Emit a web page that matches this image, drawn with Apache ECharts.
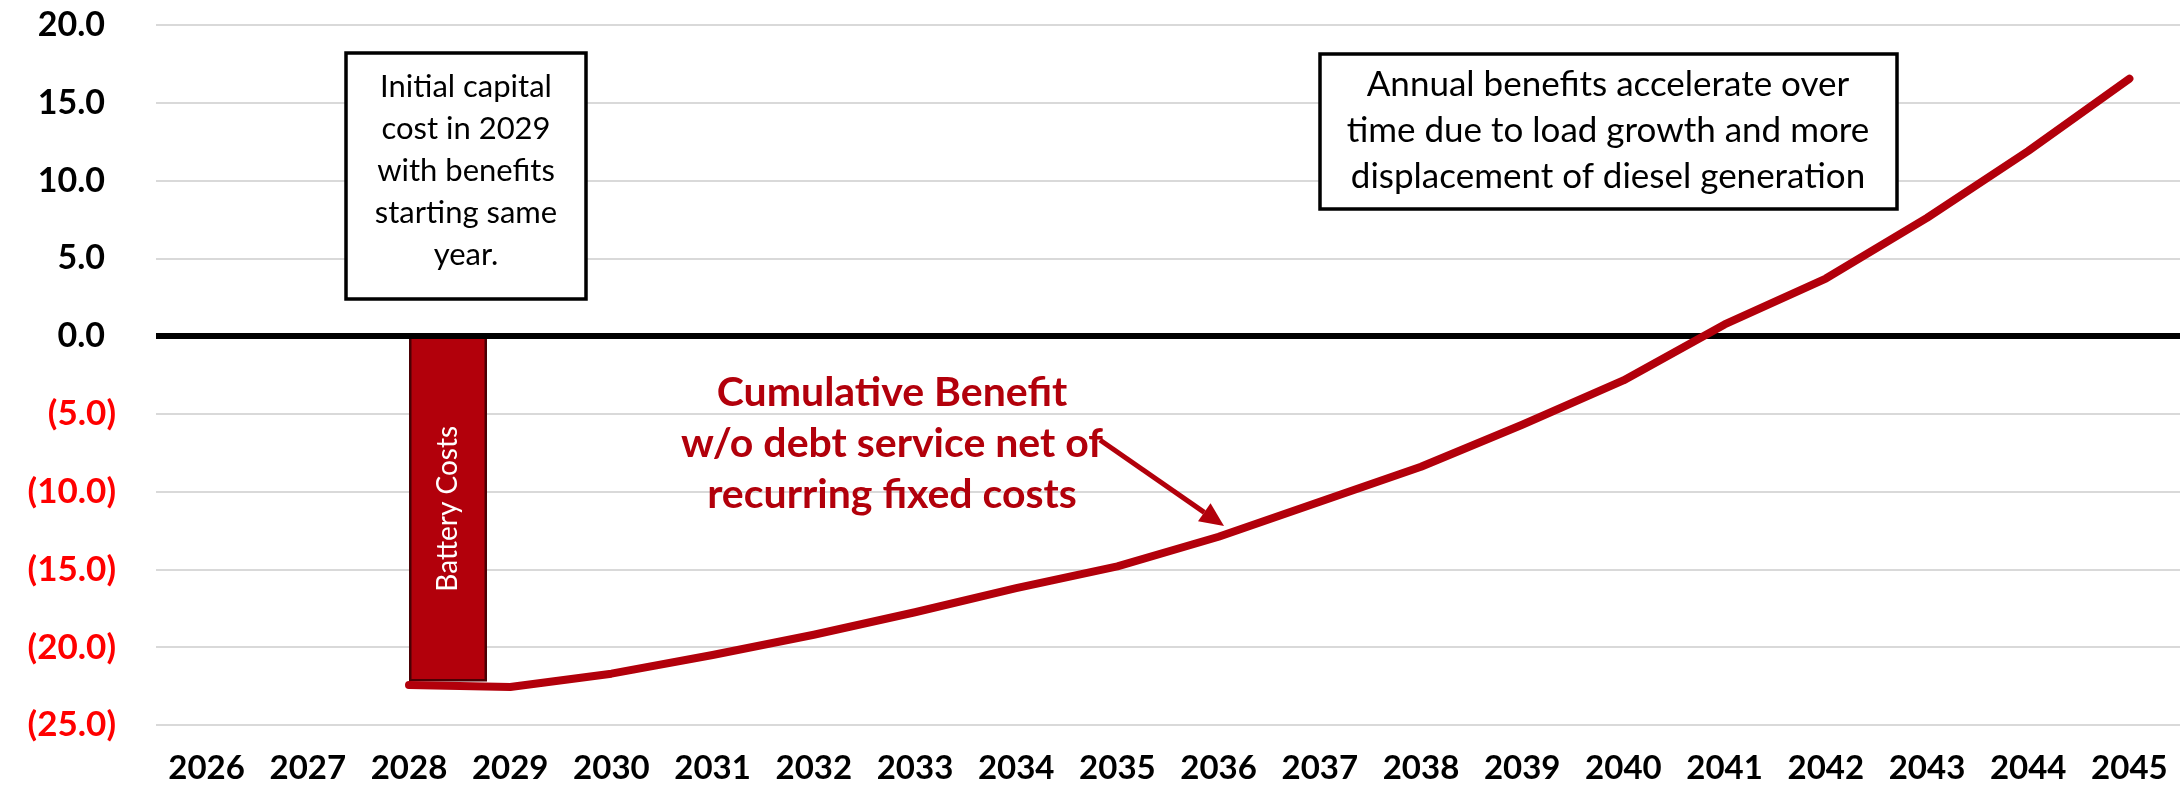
<!DOCTYPE html>
<html>
<head>
<meta charset="utf-8">
<script src="https://cdn.jsdelivr.net/npm/echarts@6/dist/echarts.min.js"></script>
<style>
html,body{margin:0;padding:0;background:#fff;}
#chart{width:2183px;height:789px;}
</style>
</head>
<body>
<div id="chart"></div>
<script>
// ---- data ----
const years = ['2026','2027','2028','2029','2030','2031','2032','2033','2034','2035','2036','2037','2038','2039','2040','2041','2042','2043','2044','2045'];
const cumulativeBenefit = [null, null, -22.43, -22.56, -21.7, -20.5, -19.2, -17.75, -16.2, -14.8, -12.9, -10.65, -8.4, -5.7, -2.85, 0.75, 3.7, 7.6, 11.9, 16.55];
const batteryCosts = [null, null, -22.2, null, null, null, null, null, null, null, null, null, null, null, null, null, null, null, null, null];
const spacer = years.map(() => null);
const yMin = -25, yMax = 20, yStep = 5;
const barLabel = 'Battery Costs';
const note1 = ['Initial capital', 'cost in 2029', 'with benefits', 'starting same', 'year.'];
const note2 = ['Annual benefits accelerate over', 'time due to load growth and more', 'displacement of diesel generation'];
const lineNote = ['Cumulative Benefit', 'w/o debt service net of', 'recurring fixed costs'];

const RED = '#B2000B';
const FONT = 'Lato, "Open Sans", sans-serif';

const chart = echarts.init(document.getElementById('chart'));

// arrow geometry
const aStart = [1100, 440], aTip = [1224, 526];
const dx = aTip[0]-aStart[0], dy = aTip[1]-aStart[1];
const len = Math.sqrt(dx*dx+dy*dy);
const ux = dx/len, uy = dy/len, px = -uy, py = ux;
const headL = 24, headW = 11;
const base = [aTip[0]-headL*ux, aTip[1]-headL*uy];

chart.setOption({
  animation: false,
  backgroundColor: '#fff',
  grid: { left: 156, right: 3, top: 25, bottom: 64 },
  xAxis: {
    type: 'category',
    data: years,
    boundaryGap: true,
    axisLine: { show: false },
    axisTick: { show: false },
    axisLabel: { fontFamily: FONT, fontWeight: 'bold', fontSize: 33, color: '#000', margin: 27, interval: 0 }
  },
  yAxis: {
    type: 'value',
    min: yMin, max: yMax, interval: yStep,
    axisLine: { show: false },
    axisTick: { show: false },
    splitLine: { lineStyle: { color: '#D9D9D9', width: 2 } },
    axisLabel: {
      margin: 40,
      formatter: function (v) {
        return v < 0 ? '{neg|(' + Math.abs(v).toFixed(1) + ')}' : '{pos|' + v.toFixed(1) + '}';
      },
      rich: {
        neg: { fontFamily: FONT, fontWeight: 'bold', fontSize: 35, color: '#FF0000' },
        pos: { fontFamily: FONT, fontWeight: 'bold', fontSize: 34, color: '#000', padding: [0, 11, 0, 0] }
      }
    }
  },
  series: [
    {
      name: 'spacer', type: 'bar', data: spacer, barWidth: 78, barGap: '0%', silent: true
    },
    {
      name: barLabel, type: 'bar', data: batteryCosts, barWidth: 78, barGap: '0%',
      itemStyle: { color: RED, borderColor: '#4A0004', borderWidth: 2.5 },
      label: {
        show: true, position: 'inside', rotate: 90, formatter: barLabel,
        color: '#fff', fontFamily: FONT, fontSize: 28
      }
    },
    {
      name: 'Cumulative Benefit', type: 'line', data: cumulativeBenefit,
      symbol: 'none', z: 5,
      lineStyle: { color: RED, width: 8, cap: 'round', join: 'round' },
      markLine: {
        silent: true, symbol: 'none', z: 4,
        label: { show: false },
        lineStyle: { color: '#000', width: 6, type: 'solid' },
        data: [{ yAxis: 0 }]
      }
    }
  ],
  graphic: [
    { type: 'rect', shape: { x: 346, y: 53, width: 240, height: 246 }, style: { fill: '#fff', stroke: '#000', lineWidth: 3.5 }, z: 10 },
    { type: 'text', x: 466, y: 171, z: 11, style: { text: note1.join('\n'), fill: '#000', font: '31px ' + FONT, lineHeight: 42, align: 'center', verticalAlign: 'middle' } },
    { type: 'rect', shape: { x: 1320, y: 54, width: 577, height: 155 }, style: { fill: '#fff', stroke: '#000', lineWidth: 3.5 }, z: 10 },
    { type: 'text', x: 1608, y: 131, z: 11, style: { text: note2.join('\n'), fill: '#000', font: '35px ' + FONT, lineHeight: 46, align: 'center', verticalAlign: 'middle' } },
    { type: 'text', x: 892, y: 444, z: 11, style: { text: lineNote.join('\n'), fill: RED, font: 'bold 41px ' + FONT, lineHeight: 51, align: 'center', verticalAlign: 'middle' } },
    { type: 'line', z: 11, shape: { x1: aStart[0], y1: aStart[1], x2: base[0], y2: base[1] }, style: { stroke: RED, lineWidth: 5 } },
    { type: 'polygon', z: 11, shape: { points: [aTip, [base[0]+headW*px, base[1]+headW*py], [base[0]-headW*px, base[1]-headW*py]] }, style: { fill: RED } }
  ]
});
</script>
</body>
</html>
